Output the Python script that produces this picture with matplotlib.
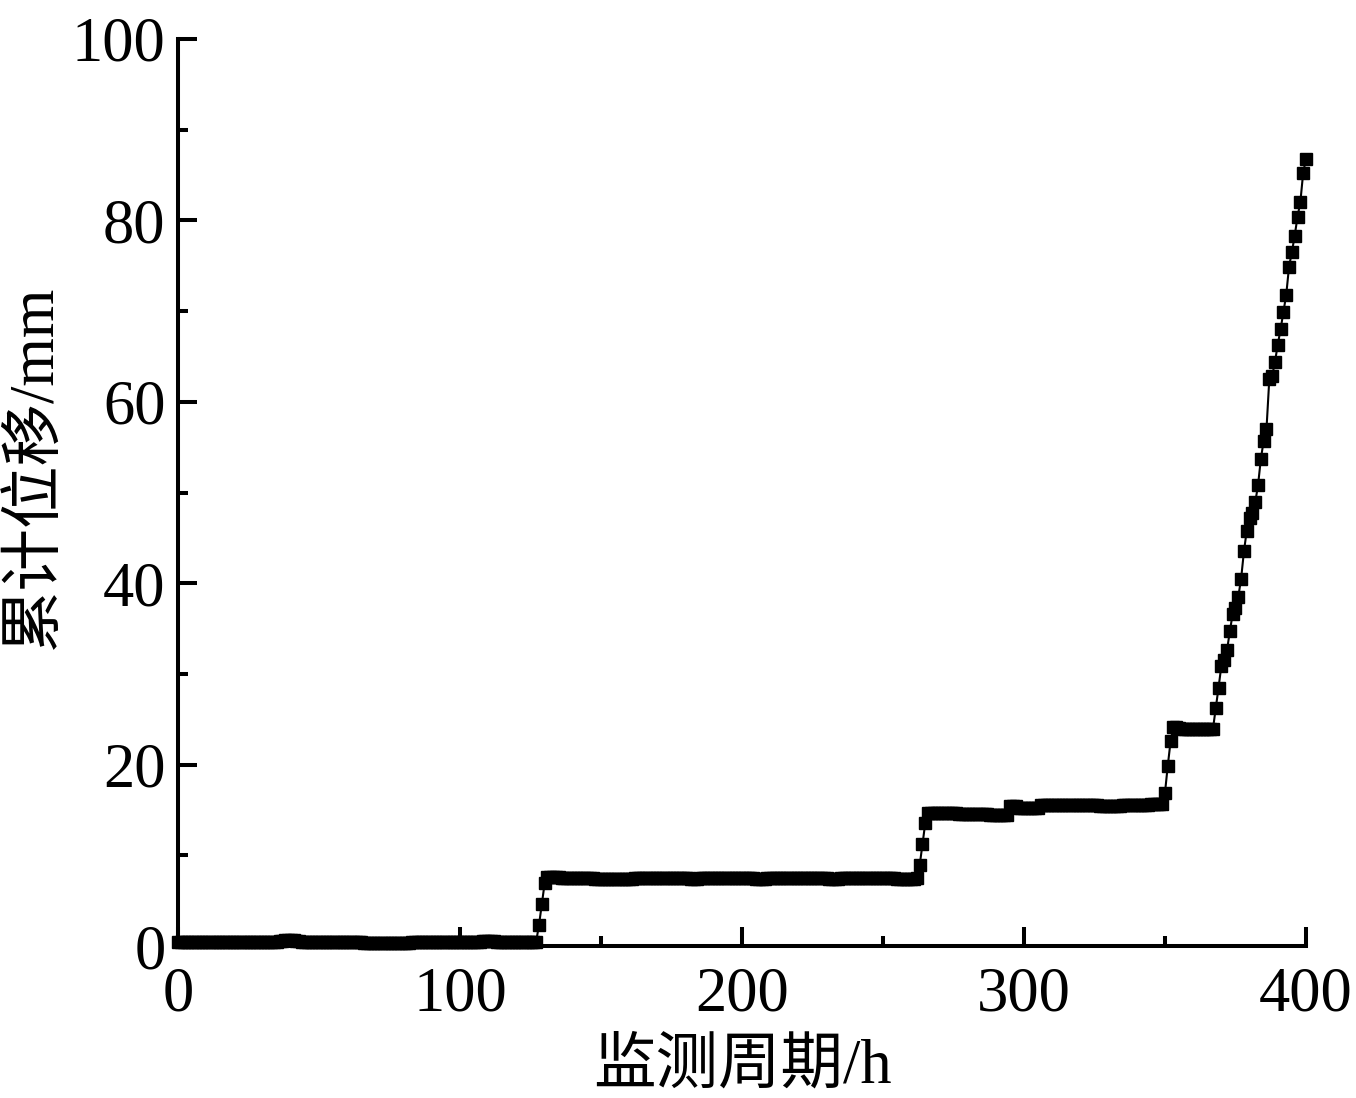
import numpy as np
import matplotlib
matplotlib.use('Agg')
import matplotlib.pyplot as plt
from matplotlib.ticker import MultipleLocator

# 监测周期 (h), one reading per hour
hours = np.arange(0, 401)

# 累计位移 (mm)
flat_0 = [0.5, 0.4, 0.4, 0.4, 0.4, 0.4, 0.4, 0.4, 0.4, 0.4,
          0.4, 0.4, 0.4, 0.4, 0.4, 0.4, 0.4, 0.4, 0.4, 0.4,
          0.4, 0.4, 0.4, 0.4, 0.5, 0.5, 0.5, 0.4, 0.4, 0.4,
          0.4, 0.4, 0.4, 0.5, 0.5, 0.5, 0.6, 0.6, 0.7, 0.7,
          0.7, 0.7, 0.6, 0.6, 0.5, 0.5, 0.4, 0.4, 0.4, 0.4,
          0.4, 0.4, 0.4, 0.4, 0.4, 0.4, 0.4, 0.4, 0.4, 0.4,
          0.4, 0.4, 0.4, 0.4, 0.4, 0.4, 0.3, 0.3, 0.3, 0.3,
          0.3, 0.3, 0.3, 0.3, 0.3, 0.3, 0.3, 0.3, 0.3, 0.3,
          0.3, 0.3, 0.3, 0.4, 0.4, 0.4, 0.4, 0.4, 0.4, 0.4,
          0.4, 0.4, 0.4, 0.4, 0.4, 0.4, 0.4, 0.4, 0.4, 0.4,
          0.4, 0.4, 0.4, 0.4, 0.5, 0.5, 0.5, 0.5, 0.6, 0.6,
          0.6, 0.6, 0.6, 0.5, 0.5, 0.5, 0.5, 0.5, 0.5, 0.5,
          0.5, 0.5, 0.5, 0.5, 0.5, 0.5, 0.5, 0.5]
rise_1 = [2.3, 4.6, 6.9]
flat_1 = [7.6, 7.6, 7.6, 7.6, 7.6, 7.5, 7.5, 7.5, 7.5, 7.5, 7.5, 7.5,
          7.5, 7.5, 7.5, 7.5, 7.5, 7.4, 7.4, 7.4, 7.4, 7.4, 7.4, 7.4,
          7.4, 7.4, 7.4, 7.4, 7.4, 7.4, 7.4, 7.5, 7.5, 7.5, 7.5, 7.5,
          7.5, 7.5, 7.5, 7.5, 7.5, 7.5, 7.5, 7.5, 7.5, 7.5, 7.5, 7.5,
          7.5, 7.5, 7.5, 7.4, 7.4, 7.4, 7.5, 7.5, 7.5, 7.5, 7.5, 7.5,
          7.5, 7.5, 7.5, 7.5, 7.5, 7.5, 7.5, 7.5, 7.5, 7.5, 7.5, 7.5,
          7.5, 7.5, 7.4, 7.4, 7.4, 7.4, 7.5, 7.5, 7.5, 7.5, 7.5, 7.5,
          7.5, 7.5, 7.5, 7.5, 7.5, 7.5, 7.5, 7.5, 7.5, 7.5, 7.5, 7.5,
          7.5, 7.5, 7.5, 7.5, 7.4, 7.4, 7.4, 7.4, 7.5, 7.5, 7.5, 7.5,
          7.5, 7.5, 7.5, 7.5, 7.5, 7.5, 7.5, 7.5, 7.5, 7.5, 7.5, 7.5,
          7.5, 7.5, 7.5, 7.5, 7.4, 7.4, 7.4, 7.4, 7.4, 7.4, 7.4, 7.5]
rise_2 = [8.9, 11.2, 13.6]
flat_2 = [14.7, 14.7, 14.7, 14.7, 14.7, 14.7, 14.7, 14.7, 14.7, 14.7, 14.7,
          14.6, 14.6, 14.6, 14.6, 14.6, 14.6, 14.6, 14.6, 14.6, 14.6, 14.6,
          14.4, 14.4, 14.4, 14.4, 14.4, 14.4, 14.4,
          15.4, 15.4, 15.4,
          15.2, 15.2, 15.2, 15.2, 15.2, 15.2, 15.2, 15.2,
          15.5, 15.5, 15.5, 15.5, 15.5, 15.5, 15.5, 15.5, 15.5, 15.5, 15.5,
          15.5, 15.5, 15.5, 15.5, 15.5, 15.5, 15.5, 15.5, 15.5, 15.5,
          15.4, 15.4, 15.4, 15.4, 15.4, 15.4, 15.4, 15.4,
          15.5, 15.5, 15.5, 15.5, 15.5, 15.5, 15.5, 15.5, 15.5, 15.5,
          15.7, 15.7, 15.7, 15.7, 15.7]
rise_3 = [16.9, 19.9, 22.6]
flat_3 = [24.1, 24.1, 24.0, 23.9, 23.9, 23.9, 23.9, 23.9, 23.9, 23.9,
          23.9, 23.9, 23.9, 23.9, 23.9]
rise_4 = [26.2, 28.5, 30.9, 31.5, 32.6, 34.7, 36.6, 37.3, 38.5, 40.5,
          43.5, 45.8, 47.2, 47.7, 48.9, 50.8, 53.7, 55.7, 57.0, 62.5,
          62.8, 64.4, 66.3, 68.0, 69.9, 71.8, 74.9, 76.5, 78.3, 80.4,
          82.0, 85.2, 86.8]

disp = flat_0 + rise_1 + flat_1 + rise_2 + flat_2 + rise_3 + flat_3 + rise_4
assert len(disp) == len(hours)

serif_cjk = ['Liberation Serif', 'Noto Sans CJK SC']
fs = 45

fig = plt.figure(figsize=(13.56, 10.98), dpi=100)
ax = fig.add_axes([0.1313, 0.1384, 0.8318, 0.8261])

ax.plot(hours, disp, color='black', lw=1.5, marker='s', ms=8.0,
        mfc='black', mec='black', clip_on=False, zorder=3)

ax.set_xlim(0, 400)
ax.set_ylim(0, 100)
ax.xaxis.set_major_locator(MultipleLocator(100))
ax.xaxis.set_minor_locator(MultipleLocator(50))
ax.yaxis.set_major_locator(MultipleLocator(20))
ax.yaxis.set_minor_locator(MultipleLocator(10))

for s in ['top', 'right']:
    ax.spines[s].set_visible(False)
for s in ['left', 'bottom']:
    ax.spines[s].set_linewidth(2.9)

ax.tick_params(which='major', direction='in', length=14, width=2.9)
ax.tick_params(which='minor', direction='in', length=7, width=2.9)
ax.tick_params(axis='y', which='major', pad=9)
ax.tick_params(axis='x', which='major', pad=15)
for lab in ax.get_xticklabels() + ax.get_yticklabels():
    lab.set_fontfamily('Liberation Serif')
    lab.set_fontsize(fs)

ax.set_xlabel('监测周期/h', family=serif_cjk, fontsize=fs, labelpad=10)
ax.set_ylabel('累计位移/mm', family=serif_cjk, fontsize=fs)
ax.yaxis.set_label_coords(-0.100, 0.528)

fig.savefig('out.png', dpi=100)
